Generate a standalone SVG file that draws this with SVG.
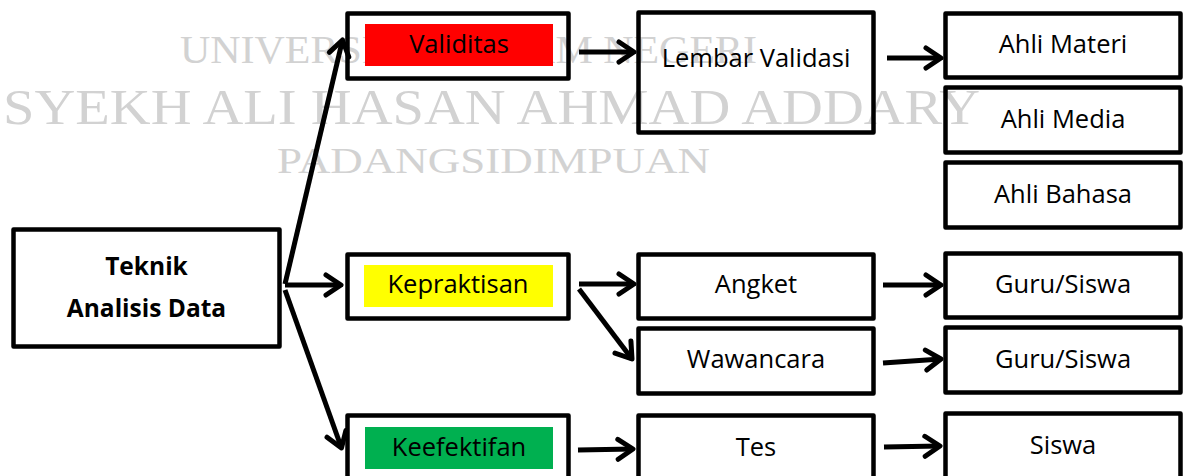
<svg xmlns="http://www.w3.org/2000/svg" width="1187" height="476" viewBox="0 0 1187 476">
  <style>
    .box { fill: none; stroke: #000; stroke-width: 4.5; stroke-linejoin: round; }
    .lbl { font-family: "Open Sans", "Noto Sans", "Liberation Sans", sans-serif; font-size: 25.5px; fill: #000; text-anchor: middle; }
    .bold { font-weight: bold; font-size: 24.5px; }
    .wm { font-family: "Liberation Serif", "DejaVu Serif", serif; fill: #d2d2d2; }
    .conn { fill: none; stroke: #000; stroke-width: 5; stroke-linecap: butt; }
  </style>
  <defs>
    <marker id="arrow" markerUnits="userSpaceOnUse" viewBox="-20 -14 24 28" refX="0" refY="0" markerWidth="24" markerHeight="28" orient="auto" overflow="visible">
      <path d="M -15 -10 L 0 0 L -15 10" fill="none" stroke="#000" stroke-width="5" stroke-linecap="round" stroke-linejoin="round"/>
    </marker>
  </defs>
  <rect x="0" y="0" width="1187" height="476" fill="#fff"/>

  <g id="watermark">
    <text class="wm" x="180" y="63" font-size="40" textLength="577" lengthAdjust="spacingAndGlyphs">UNIVERSITAS ISLAM NEGERI</text>
    <text class="wm" x="3" y="124" font-size="51" textLength="977" lengthAdjust="spacingAndGlyphs">SYEKH ALI HASAN AHMAD ADDARY</text>
    <text class="wm" x="277" y="173" font-size="36" textLength="433" lengthAdjust="spacingAndGlyphs">PADANGSIDIMPUAN</text>
  </g>

  <g id="connectors">
    <path class="conn" d="M 285 284 L 342.5 40" marker-end="url(#arrow)"/>
    <path class="conn" d="M 285 285 L 341 285" marker-end="url(#arrow)"/>
    <path class="conn" d="M 285 290 L 341.5 448" marker-end="url(#arrow)"/>
    <path class="conn" d="M 579 52 L 634 52" marker-end="url(#arrow)"/>
    <path class="conn" d="M 887 58 L 941 58" marker-end="url(#arrow)"/>
    <path class="conn" d="M 579 284 L 634 284" marker-end="url(#arrow)"/>
    <path class="conn" d="M 579 289 L 632 359" marker-end="url(#arrow)"/>
    <path class="conn" d="M 883 285 L 941 285" marker-end="url(#arrow)"/>
    <path class="conn" d="M 883 363 L 941 359" marker-end="url(#arrow)"/>
    <path class="conn" d="M 578 450 L 633 449" marker-end="url(#arrow)"/>
    <path class="conn" d="M 884 447 L 940 446" marker-end="url(#arrow)"/>
  </g>

  <g id="teknik">
    <rect class="box" x="13.5" y="229.5" width="266" height="117"/>
    <text class="lbl bold" x="146.5" y="275">Teknik</text>
    <text class="lbl bold" x="146.5" y="317">Analisis Data</text>
  </g>

  <g id="validitas">
    <rect x="365" y="24" width="188" height="42" fill="#ff0000"/>
    <rect class="box" x="347.5" y="13.5" width="221" height="65"/>
    <text class="lbl" x="459" y="53">Validitas</text>
  </g>

  <g id="kepraktisan">
    <rect x="364" y="265" width="189" height="42" fill="#ffff00"/>
    <rect class="box" x="347.5" y="254.5" width="221" height="64"/>
    <text class="lbl" x="458" y="293">Kepraktisan</text>
  </g>

  <g id="keefektifan">
    <rect x="365" y="427" width="188" height="42" fill="#00b050"/>
    <rect class="box" x="347.5" y="415.5" width="221" height="80"/>
    <text class="lbl" x="459" y="456">Keefektifan</text>
  </g>

  <g id="lembar-validasi">
    <rect class="box" x="638.5" y="12.5" width="235" height="120"/>
    <text class="lbl" x="756" y="67">Lembar Validasi</text>
  </g>

  <g id="angket">
    <rect class="box" x="638.5" y="254.5" width="235" height="64"/>
    <text class="lbl" x="756" y="293">Angket</text>
  </g>

  <g id="wawancara">
    <rect class="box" x="638.5" y="328.5" width="235" height="65"/>
    <text class="lbl" x="756" y="368">Wawancara</text>
  </g>

  <g id="tes">
    <rect class="box" x="638.5" y="415.5" width="235" height="80"/>
    <text class="lbl" x="756" y="456">Tes</text>
  </g>

  <g id="ahli-materi">
    <rect class="box" x="945.5" y="13.5" width="235" height="64"/>
    <text class="lbl" x="1063" y="53">Ahli Materi</text>
  </g>

  <g id="ahli-media">
    <rect class="box" x="945.5" y="87.5" width="235" height="65"/>
    <text class="lbl" x="1063" y="128">Ahli Media</text>
  </g>

  <g id="ahli-bahasa">
    <rect class="box" x="945.5" y="162.5" width="235" height="65"/>
    <text class="lbl" x="1063" y="203">Ahli Bahasa</text>
  </g>

  <g id="guru-siswa-1">
    <rect class="box" x="945.5" y="253.5" width="235" height="64"/>
    <text class="lbl" x="1063" y="293">Guru/Siswa</text>
  </g>

  <g id="guru-siswa-2">
    <rect class="box" x="945.5" y="327.5" width="235" height="65"/>
    <text class="lbl" x="1063" y="368">Guru/Siswa</text>
  </g>

  <g id="siswa">
    <rect class="box" x="945.5" y="413.5" width="235" height="80"/>
    <text class="lbl" x="1063" y="454">Siswa</text>
  </g>
</svg>
